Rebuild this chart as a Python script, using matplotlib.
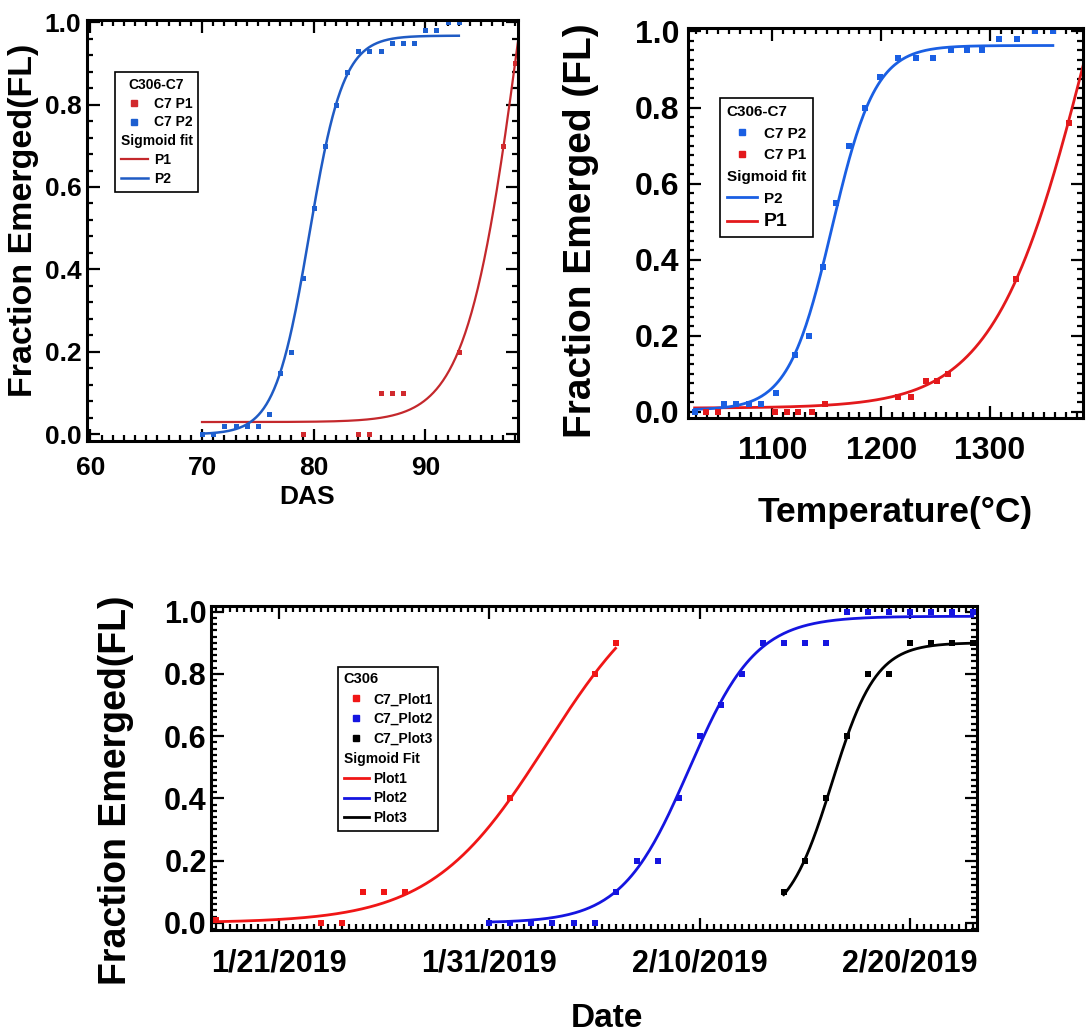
import numpy as np
import pandas as pd
import matplotlib
matplotlib.use("Agg")
import matplotlib.pyplot as plt
import matplotlib.dates as mdates
from matplotlib.lines import Line2D
from matplotlib.ticker import MultipleLocator, FormatStrFormatter

plt.rcParams["font.family"] = ["Liberation Sans", "DejaVu Sans"]
plt.rcParams["font.weight"] = "bold"
plt.rcParams["axes.labelweight"] = "bold"

# ---- top left: fraction emerged vs DAS
das_p1 = [79, 84, 85, 86, 87, 88, 93, 97, 98]
fl_p1 = [0.0, 0.0, 0.0, 0.1, 0.1, 0.1, 0.2, 0.7, 0.9]
das_p2 = [70, 71, 72, 73, 74, 75, 76, 77, 78, 79, 80, 81,
          82, 83, 84, 85, 86, 87, 88, 89, 90, 91, 92, 93]
fl_p2 = [0.0, 0.0, 0.02, 0.02, 0.02, 0.02, 0.05, 0.15, 0.2, 0.38, 0.55, 0.7,
         0.8, 0.88, 0.93, 0.93, 0.93, 0.95, 0.95, 0.95, 0.98, 0.98, 1.0, 1.0]
# Boltzmann sigmoid fit parameters (A1, A2, x0, dx)
fit_das_p1 = (0.03, 2.0, 98.6, 2.4)
fit_das_p2 = (0.0, 0.967, 79.6, 1.53)

# ---- top right: fraction emerged vs accumulated temperature
temp_p2 = [1028.6, 1055.4, 1066.5, 1078.8, 1089.5, 1103.4, 1120.9, 1133.8,
           1146.2, 1158.5, 1170.8, 1184.9, 1199.4, 1215.7, 1232.3, 1248.0,
           1264.6, 1278.8, 1292.6, 1308.0, 1324.6, 1341.8, 1357.8]
tfl_p2 = [0.0, 0.02, 0.02, 0.02, 0.02, 0.05, 0.15, 0.2, 0.38, 0.55, 0.7, 0.8,
          0.88, 0.93, 0.93, 0.93, 0.95, 0.95, 0.95, 0.98, 0.98, 1.0, 1.0]
temp_p1 = [1039.4, 1050.2, 1102.5, 1113.2, 1124.0, 1136.3, 1148.6, 1215.7,
           1227.7, 1240.9, 1251.7, 1261.8, 1324.0, 1372.3]
tfl_p1 = [0.0, 0.0, 0.0, 0.0, 0.0, 0.0, 0.02, 0.04, 0.04, 0.08, 0.08, 0.1,
          0.35, 0.76]
fit_temp_p2 = (0.005, 0.963, 1154.8, 20.0)
fit_temp_p1 = (0.01, 2.0, 1394.0, 44.0)

# ---- bottom: fraction emerged vs date
plot1_dates = ["2019-01-18", "2019-01-23", "2019-01-24", "2019-01-25", "2019-01-26",
               "2019-01-27", "2019-02-01", "2019-02-05", "2019-02-06"]
plot1_fl = [0.01, 0.0, 0.0, 0.1, 0.1, 0.1, 0.4, 0.8, 0.9]
plot2_dates = ["2019-01-31", "2019-02-01", "2019-02-02", "2019-02-03", "2019-02-04",
               "2019-02-05", "2019-02-06", "2019-02-07", "2019-02-08", "2019-02-09",
               "2019-02-10", "2019-02-11", "2019-02-12", "2019-02-13", "2019-02-14",
               "2019-02-15", "2019-02-16", "2019-02-17", "2019-02-18", "2019-02-19",
               "2019-02-20", "2019-02-21", "2019-02-22", "2019-02-23"]
plot2_fl = [0.0, 0.0, 0.0, 0.0, 0.0, 0.0, 0.1, 0.2, 0.2, 0.4, 0.6, 0.7,
            0.8, 0.9, 0.9, 0.9, 0.9, 1.0, 1.0, 1.0, 1.0, 1.0, 1.0, 1.0]
plot3_dates = ["2019-02-14", "2019-02-15", "2019-02-16", "2019-02-17", "2019-02-18",
               "2019-02-19", "2019-02-20", "2019-02-21", "2019-02-22", "2019-02-23"]
plot3_fl = [0.1, 0.2, 0.4, 0.6, 0.8, 0.8, 0.9, 0.9, 0.9, 0.9]
# (A1, A2, centre date, width in days)
fit_plot1 = (0.0, 1.15, "2019-02-02 17:31", 2.745)
fit_plot2 = (0.0, 0.985, "2019-02-09 11:45", 1.6)
fit_plot3 = (0.0, 0.9, "2019-02-16 07:12", 1.05)
date_ticks = ["2019-01-21", "2019-01-31", "2019-02-10", "2019-02-20"]


def boltzmann(x, a1, a2, x0, dx):
    return a2 + (a1 - a2) / (1.0 + np.exp((x - x0) / dx))


W, H = 1092, 1034
fig = plt.figure(figsize=(W / 100, H / 100), dpi=100)


def axes_px(l, r, t, b):
    return fig.add_axes([l / W, 1 - b / H, (r - l) / W, (b - t) / H])


def style(ax, size, padx, pady, major=9, minor=4.5):
    for s in ax.spines.values():
        s.set_linewidth(2.2)
    ax.tick_params(which="both", direction="in", top=True, right=True, width=1.6)
    ax.tick_params(which="major", length=major)
    ax.tick_params(which="minor", length=minor)
    ax.tick_params(axis="x", pad=padx, labelsize=size)
    ax.tick_params(axis="y", pad=pady, labelsize=size)
    ax.yaxis.set_major_formatter(FormatStrFormatter("%.1f"))


def heading_left(leg, idx):
    # pull a handle-less row back to the left edge so it reads as a sub-heading
    try:
        col = leg._legend_handle_box.get_children()[0]
        row = col.get_children()[idx]
        row.get_children()[0].width = 0
        row.sep = 0
    except Exception:
        pass


blank = Line2D([], [], linestyle="none")

# ================= top left
ax1 = axes_px(87, 518, 20, 441)
RED1, BLUE1 = "#d12a2e", "#1d5fd0"
xs = np.linspace(min(das_p2), 98.3, 300)
ax1.plot(xs, boltzmann(xs, *fit_das_p1), color="#c4282c", lw=1.6)
xs = np.linspace(min(das_p2), max(das_p2), 300)
ax1.plot(xs, boltzmann(xs, *fit_das_p2), color="#1f5bc4", lw=1.8)
ax1.plot(das_p1, fl_p1, "s", color=RED1, ms=3.6, mew=0)
ax1.plot(das_p2, fl_p2, "s", color=BLUE1, ms=3.6, mew=0)
ax1.set_xlim(59.7, 98.3)
ax1.set_ylim(-0.016, 1.005)
ax1.xaxis.set_major_locator(MultipleLocator(10))
ax1.xaxis.set_minor_locator(MultipleLocator(1))
ax1.yaxis.set_major_locator(MultipleLocator(0.2))
ax1.yaxis.set_minor_locator(MultipleLocator(0.04))
style(ax1, 19, 11, 4)
ax1.set_xlabel("DAS", fontsize=19)
ax1.xaxis.set_label_coords(0.51, -0.105)
ax1.set_ylabel("Fraction Emerged(FL)", fontsize=24.5)
ax1.yaxis.set_label_coords(-0.112, 0.525)
h = [Line2D([], [], ls="none", marker="s", color=RED1, ms=4),
     Line2D([], [], ls="none", marker="s", color=BLUE1, ms=4),
     blank,
     Line2D([], [], color="#c4282c", lw=1.6),
     Line2D([], [], color="#1f5bc4", lw=1.8)]
leg = ax1.legend(h, ["C7 P1", "C7 P2", "Sigmoid fit", "P1", "P2"], title="C306-C7",
                 loc="upper left", bbox_to_anchor=(0.065, 0.876), fontsize=10,
                 title_fontsize=10, frameon=True, fancybox=False, edgecolor="black",
                 framealpha=1, handlelength=2.0, handletextpad=0.4, labelspacing=0.35,
                 borderpad=0.4, borderaxespad=0)
leg.get_frame().set_linewidth(1.2)
leg.get_title().set_fontweight("bold")
heading_left(leg, 2)

# ================= top right
ax2 = axes_px(688, 1083, 28, 418)
RED2, BLUE2 = "#e3191c", "#1a5fe3"
xs = np.linspace(min(temp_p2), 1385.5, 300)
ax2.plot(xs, boltzmann(xs, *fit_temp_p1), color=RED2, lw=2.0)
xs = np.linspace(min(temp_p2), max(temp_p2), 300)
ax2.plot(xs, boltzmann(xs, *fit_temp_p2), color=BLUE2, lw=2.0)
ax2.plot(temp_p2, tfl_p2, "s", color=BLUE2, ms=4.6, mew=0)
ax2.plot(temp_p1, tfl_p1, "s", color=RED2, ms=4.6, mew=0)
ax2.set_xlim(1022.5, 1385.5)
ax2.set_ylim(-0.016, 1.009)
ax2.xaxis.set_major_locator(MultipleLocator(100))
ax2.xaxis.set_minor_locator(MultipleLocator(10))
ax2.yaxis.set_major_locator(MultipleLocator(0.2))
ax2.yaxis.set_minor_locator(MultipleLocator(0.025))
style(ax2, 23, 13, 6)
ax2.set_xlabel("Temperature(°C)", fontsize=25.5)
ax2.xaxis.set_label_coords(0.524, -0.2)
ax2.set_ylabel("Fraction Emerged (FL)", fontsize=28)
ax2.yaxis.set_label_coords(-0.225, 0.48)
h = [Line2D([], [], ls="none", marker="s", color=BLUE2, ms=5),
     Line2D([], [], ls="none", marker="s", color=RED2, ms=5),
     blank,
     Line2D([], [], color=BLUE2, lw=2),
     Line2D([], [], color=RED2, lw=2)]
leg = ax2.legend(h, ["C7 P2", "C7 P1", "Sigmoid fit", "P2", "P1"], title="C306-C7",
                 loc="upper left", bbox_to_anchor=(0.081, 0.82), fontsize=11,
                 title_fontsize=11, frameon=True, fancybox=False, edgecolor="black",
                 framealpha=1, handlelength=2.0, handletextpad=0.4, labelspacing=0.5,
                 borderpad=0.45, borderaxespad=0, alignment="left")
leg.get_frame().set_linewidth(1.2)
leg.get_title().set_fontweight("bold")
leg.get_texts()[-1].set_fontsize(14)
heading_left(leg, 2)

# ================= bottom
ax3 = axes_px(211, 977, 606, 930)
series = [(plot1_dates, plot1_fl, fit_plot1, "#f01616"),
          (plot2_dates, plot2_fl, fit_plot2, "#1515e0"),
          (plot3_dates, plot3_fl, fit_plot3, "#000000")]
for dates, fl, (a1, a2, centre, width), col in series:
    xd = mdates.date2num(pd.to_datetime(dates))
    xs = np.linspace(xd.min(), xd.max(), 300)
    x0 = mdates.date2num(pd.Timestamp(centre))
    ax3.plot(xs, boltzmann(xs, a1, a2, x0, width), color=col, lw=2.0)
for dates, fl, _, col in series:
    ax3.plot(mdates.date2num(pd.to_datetime(dates)), fl, "s", color=col, ms=4.8, mew=0)
base = mdates.date2num(pd.Timestamp(date_ticks[0]))
ax3.set_xlim(base - 3.25, base + 33.2)
ax3.set_ylim(-0.023, 1.018)
ax3.set_xticks(mdates.date2num(pd.to_datetime(date_ticks)))
ax3.xaxis.set_major_formatter(mdates.DateFormatter("%-m/%-d/%Y"))
ax3.xaxis.set_minor_locator(MultipleLocator(1 / 3))
ax3.yaxis.set_major_locator(MultipleLocator(0.2))
ax3.yaxis.set_minor_locator(MultipleLocator(0.02))
style(ax3, 22, 13, 3)
ax3.set_xlabel("Date", fontsize=24)
ax3.xaxis.set_label_coords(0.517, -0.225)
ax3.set_ylabel("Fraction Emerged(FL)", fontsize=27)
ax3.yaxis.set_label_coords(-0.1, 0.43)
h = [Line2D([], [], ls="none", marker="s", color=c, ms=5) for *_, c in series]
h += [blank] + [Line2D([], [], color=c, lw=2) for *_, c in series]
leg = ax3.legend(h, ["C7_Plot1", "C7_Plot2", "C7_Plot3", "Sigmoid Fit",
                     "Plot1", "Plot2", "Plot3"], title="C306",
                 loc="upper left", bbox_to_anchor=(0.166, 0.812), fontsize=10,
                 title_fontsize=10.5, frameon=True, fancybox=False, edgecolor="black",
                 framealpha=1, handlelength=1.8, handletextpad=0.3, labelspacing=0.42,
                 borderpad=0.4, borderaxespad=0, alignment="left")
leg.get_frame().set_linewidth(1.2)
heading_left(leg, 3)

fig.savefig("out.png", dpi=100)
